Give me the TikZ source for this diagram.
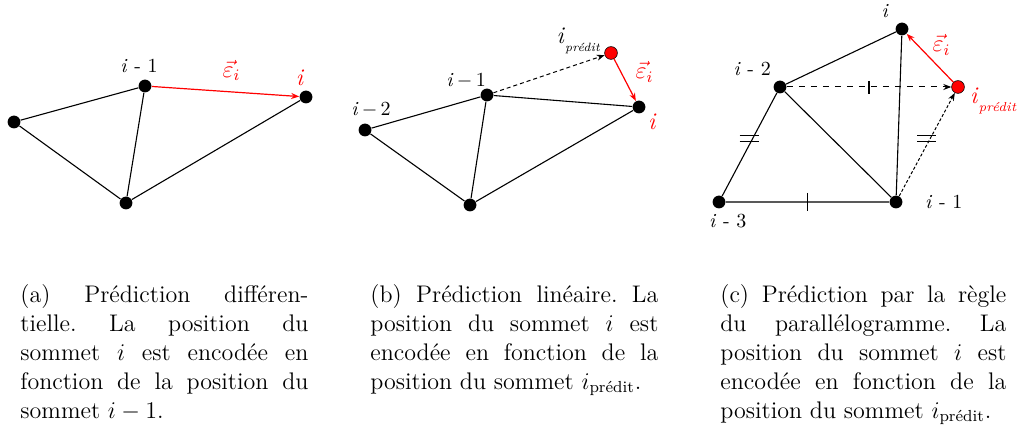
\documentclass[tikz,border=0pt]{standalone}
\usepackage{amsmath}
\usepackage{fontspec}
\usetikzlibrary{arrows.meta, positioning, calc}
\definecolor{errred}{HTML}{FF0000}
\frenchspacing
\newcommand{\vi}{\textit{i}}
\newcommand{\ipred}[1]{\textit{i}\raisebox{-0.8ex}{\fontsize{#1}{#1}\selectfont\itshape prédit}}
\newcommand{\epsi}{$\vec{\varepsilon}_{i}$}
\tikzset{
  vertex/.style={circle, fill=black, inner sep=0pt, minimum size=6.4pt},
  vpred/.style={circle, fill=errred, draw=black, line width=0.3pt, inner sep=0pt, minimum size=6.4pt},
  edge/.style={line width=0.55pt},
  err/.style={-{Stealth[length=4pt, width=3pt]}, line width=0.6pt, errred},
  pred/.style={-{Stealth[length=4pt, width=3pt]}, line width=0.5pt},
  lbl/.style={font=\rmfamily\fontsize{10}{12}\selectfont, inner sep=1pt},
  rlbl/.style={lbl, text=errred, font=\rmfamily\fontsize{12}{14}\selectfont},
  caption/.style={text width=144pt, align=justify, font=\rmfamily\fontsize{12}{14.5}\selectfont, inner sep=0pt, anchor=north west},
}
\begin{document}
\begin{tikzpicture}[x=0.5pt, y=-0.5pt]
\useasboundingbox (0,0) rectangle (1017,426);
% (a) prediction differentielle
\node[vertex] (a1) at (14,122) {};
\node[vertex] (a2) at (145,86) {};
\node[vertex] (a3) at (126,203) {};
\node[vertex] (a4) at (306,97) {};
\draw[edge] (a1) -- (a2) -- (a3) -- (a1);
\draw[edge] (a3) -- (a4);
\draw[err] (a2) -- node[midway, above=4pt, rlbl, xshift=3pt]{\epsi} (a4);
\node[lbl, above=2pt of a2, xshift=-3pt] (la2) {\vi\ - 1};
\node[rlbl, above=1pt of a4, xshift=-3pt] (la4) {\vi};
% (b) prediction lineaire
\node[vertex] (b1) at (365,130) {};
\node[vertex] (b2) at (487,95) {};
\node[vertex] (b3) at (470,205) {};
\node[vertex] (b4) at (639,107) {};
\node[vpred] (bp) at (611,53) {};
\draw[edge] (b1) -- (b2) -- (b3) -- (b1);
\draw[edge] (b2) -- (b4) -- (b3);
\draw[pred, dash pattern=on 2pt off 1.5pt] (b2) -- (bp);
\draw[err] (bp) -- node[midway, right=4pt, rlbl, yshift=4pt]{\epsi} (b4);
\node[lbl, above=2pt of b1, xshift=3pt] (lb1) {\vi$\,-\,$2};
\node[lbl, above left=0pt and -3pt of b2] (lb2) {\vi$\,-\,$1};
\node[lbl, font=\rmfamily\fontsize{12}{14}\selectfont, left=1pt of bp, yshift=6pt] (lbp) {\ipred{6}};
\node[rlbl, below right=0pt and 1pt of b4] (lb4) {\vi};
% (c) regle du parallelogramme
\node[vertex] (c1) at (896,202) {};
\node[vertex] (c2) at (780,87) {};
\node[vertex] (c3) at (719,202) {};
\node[vertex] (c4) at (902,29) {};
\node[vpred] (cp) at (958,87) {};
\draw[edge] (c3) -- (c2) -- (c4) -- (c1) -- (c3);
\draw[edge] (c2) -- (c1);
\draw[pred, dashed] (c2) -- (cp);
\draw[pred, dash pattern=on 1.5pt off 1pt] (c1) -- (cp);
\draw[err] (cp) -- node[midway, above right=0pt and 0pt, rlbl]{\epsi} (c4);
% marques d'egalite
\draw[edge] ($(c2)!0.5!(cp)+(0,-6)$) -- ++(0,13);
\draw[edge] ($(c3)!0.5!(c1)+(0,-9)$) -- ++(0,18);
\draw[edge] ($(c3)!0.5!(c2)+(-10,-9)$) -- ++(19,0) ++(-19,6) -- ++(19,0);
\draw[edge] ($(c1)!0.5!(cp)+(-10,-9)$) -- ++(19,0) ++(-19,6) -- ++(19,0);
\node[lbl, above left=2pt and 3pt of c4] (lc4) {\vi};
\node[lbl, above left=2pt and 1pt of c2] (lc2) {\vi\ - 2};
\node[lbl, right=10pt of c1] (lc1) {\vi\ - 1};
\node[lbl, below right=2.5pt and -8.5pt of c3] (lc3) {\vi\ - 3};
\node[rlbl, right=1.5pt of cp, yshift=-7pt] (lcp) {\ipred{6.5}};
% legendes
\node[caption] (capa) at (20,284) {(a) Prédiction différen-\linebreak tielle. La position du\linebreak sommet $i$ est encodée en\linebreak fonction de la position du\linebreak sommet $i-1$.};
\node[caption] (capb) at (370,284) {(b) Prédiction linéaire. La\linebreak position du sommet $i$ est\linebreak encodée en fonction de la\linebreak position du sommet $i_{\text{prédit}}$.};
\node[caption, text width=143pt] (capc) at (720,284) {(c) Prédiction par la règle\linebreak du parallélogramme. La\linebreak position du sommet $i$ est\linebreak encodée en fonction de la\linebreak position du sommet $i_{\text{prédit}}$.};
\end{tikzpicture}
\end{document}
